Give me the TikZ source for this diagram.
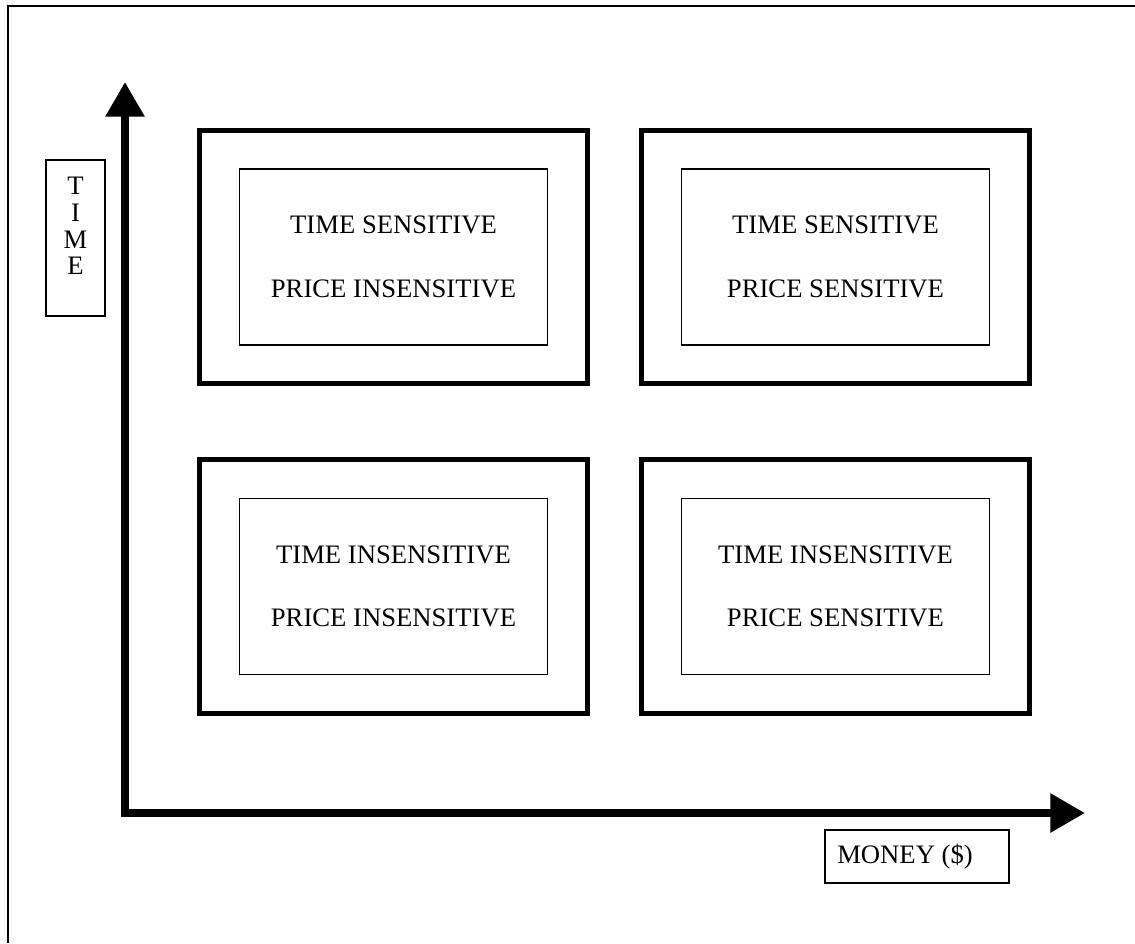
\documentclass[tikz,border=0pt]{standalone}
\usepackage{fontspec}
\setmainfont{Liberation Serif}
\usepackage{tikz}
\usetikzlibrary{arrows.meta}
\usetikzlibrary{positioning}

\begin{document}
\begin{tikzpicture}[x=0.75pt,y=-0.75pt,
	outerbox/.style={draw,line width=3.75pt,minimum width=291pt,minimum height=190pt,inner sep=0pt},
	innerbox/.style={draw,line width=1.1pt,minimum width=231pt,minimum height=132pt,align=center,inner sep=0pt,
		font=\fontsize{20}{47.5}\selectfont},
	labelbox/.style={draw,line width=1pt,inner sep=0pt},
	labeltext/.style={inner sep=0pt,font=\fontsize{20}{20}\selectfont},
	axis/.style={line width=6pt,line join=miter,{Triangle[length=26pt,width=28pt]}-{Triangle[length=26pt,width=28pt]}}]
\useasboundingbox (0,0) rectangle (1135,943);

%page frame
\coordinate (frameBL) at (8,943);
\coordinate (frameTR) at (1135,6);
\draw[line width=1.5pt] (frameBL) |- (frameTR);

%axes
\coordinate (origin) at (125,813);
\coordinate (ytip) at (125,82);
\coordinate (xtip) at (1085,813);
\draw[axis] (ytip) -- (origin) -- (xtip);

%quadrants
\node[outerbox] (TL) at (393.5,257) {};
\node[innerbox] (TLin) at (TL.center) {TIME SENSITIVE\\PRICE INSENSITIVE};

\node[outerbox] (TR) at (835.5,257) {};
\node[innerbox] (TRin) at (TR.center) {TIME SENSITIVE\\PRICE SENSITIVE};

\node[outerbox] (BL) at (393.5,586.5) {};
\node[innerbox] (BLin) at (BL.center) {TIME INSENSITIVE\\PRICE INSENSITIVE};

\node[outerbox] (BR) at (835.5,586.5) {};
\node[innerbox] (BRin) at (BR.center) {TIME INSENSITIVE\\PRICE SENSITIVE};

%axis labels
\node[labelbox,minimum width=44.25pt,minimum height=117pt] (timebox) at (75.5,238) {};
\node[labeltext,align=center,anchor=north] (timetext) at (75.5,177) {T\\I\\M\\E};

\node[labelbox,minimum width=138pt,minimum height=39.75pt] (moneybox) at (917,856.5) {};
\node[labeltext,anchor=west] (moneytext) at (837,857) {MONEY (\$)};
\end{tikzpicture}
\end{document}
